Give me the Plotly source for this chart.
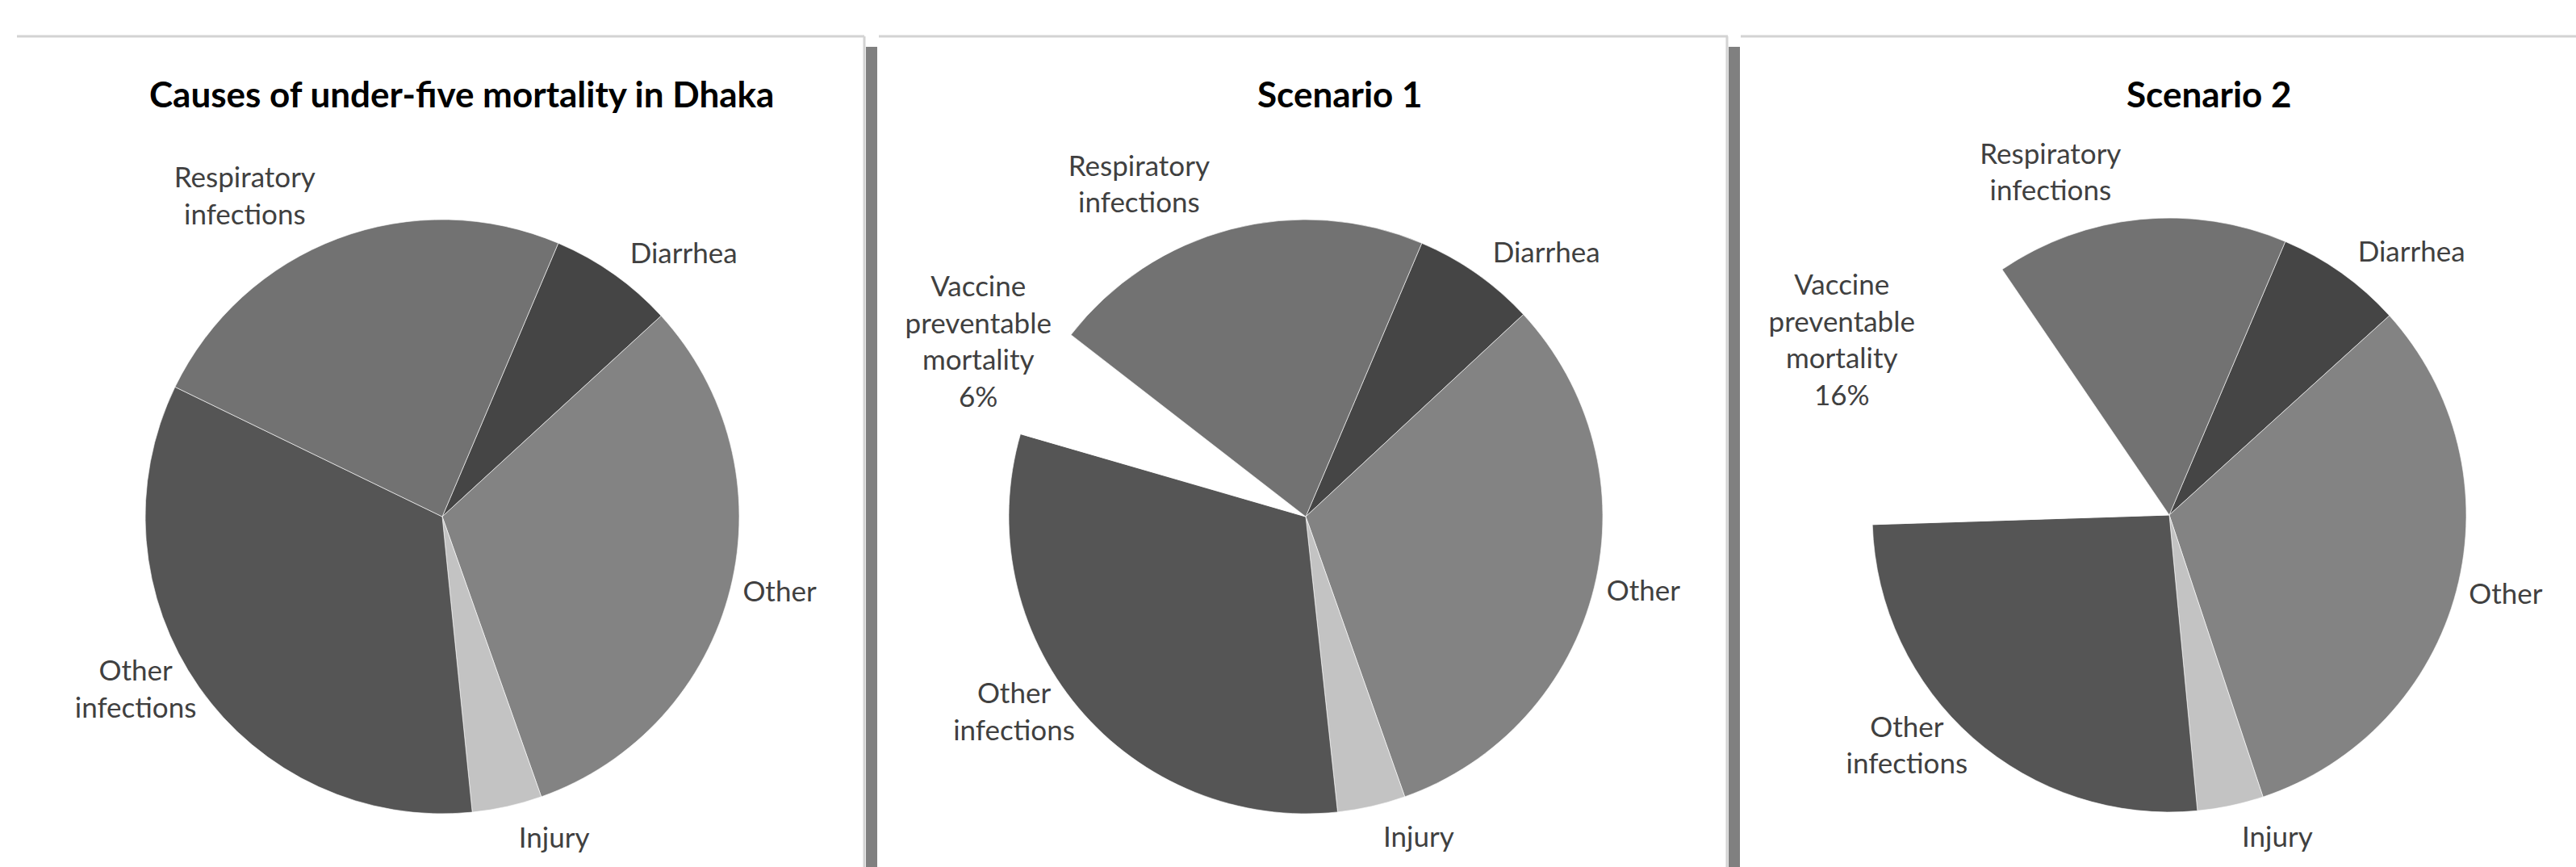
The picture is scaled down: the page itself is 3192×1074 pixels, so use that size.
import plotly.graph_objects as go

# ---------------- data ----------------
dhaka_labels = ["Diarrhea", "Other", "Injury", "Other<br>infections", "Respiratory<br>infections"]
dhaka_values = [6.8, 31.4, 3.8, 33.8, 24.2]

scen_labels_1 = ["Diarrhea", "Other", "Injury", "Other<br>infections",
                 "Vaccine<br>preventable<br>mortality<br>6%", "Respiratory<br>infections"]
scen1_values = [6.7, 31.5, 3.7, 31.2, 6.0, 20.9]

scen_labels_2 = ["Diarrhea", "Other", "Injury", "Other<br>infections",
                 "Vaccine<br>preventable<br>mortality<br>16%", "Respiratory<br>infections"]
scen2_values = [6.9, 31.6, 3.6, 26.0, 16.0, 15.9]

titles = ["Causes of under-five mortality in Dhaka", "Scenario 1", "Scenario 2"]

# ---------------- styling ----------------
W, H = 3192, 1074
FONT = "Lato, 'Open Sans', sans-serif"
col = {"Diarrhea": "#454545", "Other": "#838383", "Injury": "#c3c3c3",
       "Other infections": "#555555", "Vaccine": "#ffffff", "Respiratory": "#727272"}
dhaka_colors = [col["Diarrhea"], col["Other"], col["Injury"], col["Other infections"], col["Respiratory"]]
scen_colors = [col["Diarrhea"], col["Other"], col["Injury"], col["Other infections"],
               col["Vaccine"], col["Respiratory"]]

ROT = 23         # first slice (Diarrhea) starts 23 deg clockwise from 12 o'clock
R = 368          # pie radius in px
LABEL_FONT = dict(family=FONT, size=35, color="#404040")
centers = [(548, 640), (1618, 640), (2688, 638)]
title_pos = [(572, 116), (1660, 116), (2737, 116)]

# label placement groups: (label test, radius px, extra rotation deg)
label_groups = [
    (lambda l: l.startswith(("Respiratory", "Diarrhea", "Injury")), 385, 0),
    (lambda l: l == "Other", 373, 0),
    (lambda l: l.startswith("Other<br>"), 345, 0),
    (lambda l: l.startswith("Vaccine"), 330, 8),
]


def dom(cx, cy, r):
    return dict(x=[(cx - r) / W, (cx + r) / W], y=[1 - (cy + r) / H, 1 - (cy - r) / H])


def label_pie(labs, vals, mask, cx, cy, r, rot):
    # transparent copy of the pie, used only to place the outside labels
    return go.Pie(
        labels=labs, values=vals, text=[l if m else "" for l, m in zip(labs, mask)],
        textinfo="text", textposition=["outside" if m else "none" for m in mask],
        sort=False, direction="clockwise", rotation=rot,
        marker=dict(colors=["rgba(0,0,0,0)"] * len(vals), line=dict(width=0)),
        outsidetextfont=LABEL_FONT, domain=dom(cx, cy, r), showlegend=False, hoverinfo="skip",
    )


fig = go.Figure()
series = [(dhaka_labels, dhaka_values, dhaka_colors),
          (scen_labels_1, scen1_values, scen_colors),
          (scen_labels_2, scen2_values, scen_colors)]
for (labs, vals, cols), (cx, cy) in zip(series, centers):
    fig.add_trace(go.Pie(
        labels=labs, values=vals, textinfo="none", sort=False, direction="clockwise", rotation=ROT,
        marker=dict(colors=cols, line=dict(color="rgba(255,255,255,0.6)", width=1)),
        domain=dom(cx, cy, R), showlegend=False, hoverinfo="label+value",
    ))
    for test, r, drot in label_groups:
        mask = [test(l) for l in labs]
        if any(mask):
            fig.add_trace(label_pie(labs, vals, mask, cx, cy, r, ROT + drot))

for t, (x, y) in zip(titles, title_pos):
    fig.add_annotation(x=x / W, y=1 - y / H, xref="paper", yref="paper", text="<b>%s</b>" % t,
                       showarrow=False, font=dict(family=FONT, size=44, color="#000000"),
                       xanchor="center", yanchor="middle")

shapes = []
# top frame lines of the three chart areas
for x0, x1 in [(21, 1071), (1089, 2141), (2157, W)]:
    shapes.append(dict(type="line", xref="paper", yref="paper", x0=x0 / W, x1=x1 / W, layer="below",
                       y0=1 - 45 / H, y1=1 - 45 / H, line=dict(color="#d3d3d3", width=3)))
# right edges with shadow
for xl in [1071, 2140]:
    shapes.append(dict(type="line", xref="paper", yref="paper", x0=xl / W, x1=xl / W, layer="below",
                       y0=0, y1=1 - 45 / H, line=dict(color="#d3d3d3", width=3)))
    shapes.append(dict(type="rect", xref="paper", yref="paper", x0=(xl + 2) / W, x1=(xl + 16) / W,
                       layer="below", y0=0, y1=1 - 58 / H, line=dict(width=0), fillcolor="#808080"))

fig.update_layout(width=W, height=H, margin=dict(l=0, r=0, t=0, b=0),
                  paper_bgcolor="white", plot_bgcolor="white", shapes=shapes,
                  font=dict(family=FONT))
fig.write_html("out.html")
